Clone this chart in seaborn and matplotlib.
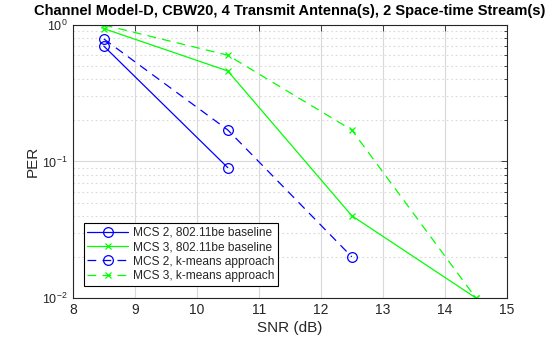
import matplotlib
matplotlib.use("Agg")
import matplotlib.pyplot as plt
import seaborn as sns
import pandas as pd
from matplotlib.ticker import LogLocator, NullFormatter, FixedLocator

sns.set_style("white")
plt.rcParams["font.family"] = ["Liberation Sans", "DejaVu Sans"]
plt.rcParams["mathtext.fontset"] = "custom"
plt.rcParams["mathtext.rm"] = "Liberation Sans"

snr_mcs2 = [8.5, 10.5, 12.5]
snr_mcs3 = [8.5, 10.5, 12.5, 14.5]

per_mcs2_base = [0.70, 0.09]
per_mcs3_base = [0.94, 0.46, 0.04, 0.01]
per_mcs2_km = [0.79, 0.17, 0.02]
per_mcs3_km = [1.0, 0.60, 0.17, 0.01]

labels = [
    "MCS 2, 802.11be baseline",
    "MCS 3, 802.11be baseline",
    "MCS 2, k-means approach",
    "MCS 3, k-means approach",
]

series = [
    (snr_mcs2[:2], per_mcs2_base, "#0000ff", "o", "-"),
    (snr_mcs3, per_mcs3_base, "#00ff00", "x", "-"),
    (snr_mcs2, per_mcs2_km, "#0000ff", "o", (0, (7, 5))),
    (snr_mcs3, per_mcs3_km, "#00ff00", "x", (0, (7, 5))),
]

fig = plt.figure(figsize=(5.6, 3.37), dpi=100)
ax = fig.add_axes([0.130, 0.116, 0.775, 0.810])

for (x, y, c, m, ls), lab in zip(series, labels):
    df = pd.DataFrame({"SNR": x, "PER": y})
    sns.lineplot(data=df, x="SNR", y="PER", ax=ax, color=c, marker=m,
                 linestyle=ls, linewidth=0.9, markersize=7 if m == "o" else 5,
                 markerfacecolor="none", markeredgecolor=c, markeredgewidth=0.9,
                 label=lab, sort=False)

ax.set_yscale("log")
ax.set_xlim(8, 15)
ax.set_ylim(0.01, 1)
ax.xaxis.set_major_locator(FixedLocator(range(8, 16)))
ax.yaxis.set_major_locator(LogLocator(base=10, numticks=10))
ax.yaxis.set_minor_locator(LogLocator(base=10, subs=range(2, 10), numticks=10))
ax.yaxis.set_minor_formatter(NullFormatter())

ax.grid(True, which="major", color="#d9d9d9", linewidth=0.8, linestyle="-")
ax.grid(True, which="minor", axis="y", color="#d9d9d9", linewidth=0.8, linestyle=(0, (1.5, 2.5)))
ax.set_axisbelow(True)

ax.tick_params(which="both", direction="in", top=True, right=True, colors="#262626",
               labelsize=10, labelcolor="#262626")
ax.tick_params(axis="y", labelsize=9)
ax.tick_params(which="major", length=4, width=0.6)
ax.tick_params(which="minor", length=2.5, width=0.6)
for s in ax.spines.values():
    s.set_color("#262626")
    s.set_linewidth(0.8)

ax.set_xlabel("SNR (dB)", fontsize=11, color="#262626", labelpad=3)
ax.set_ylabel("PER", fontsize=11, color="#262626", labelpad=2)
ax.set_title("Channel Model-D, CBW20, 4 Transmit Antenna(s), 2 Space-time Stream(s)",
             fontsize=10.5, fontweight="bold", color="#000000", pad=7)

leg = ax.legend(loc="lower left", bbox_to_anchor=(0.025, 0.045), fontsize=8.6,
                frameon=True, fancybox=False, edgecolor="black", framealpha=1,
                borderpad=0.3, labelspacing=0.2, handlelength=3.4, handletextpad=0.4,
                borderaxespad=0)
leg.get_frame().set_linewidth(0.8)

fig.savefig("out.png", dpi=100)
